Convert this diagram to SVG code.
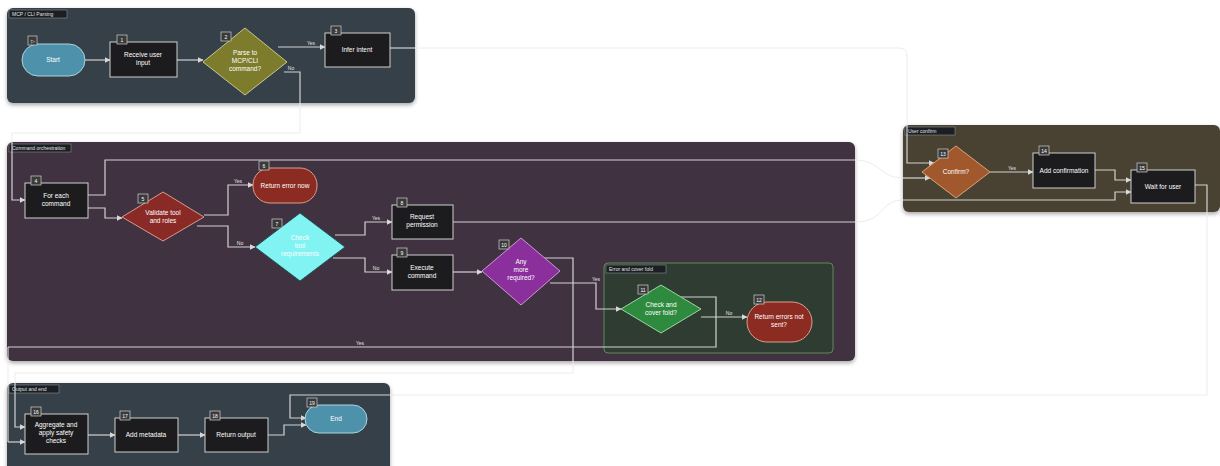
<svg xmlns="http://www.w3.org/2000/svg" width="1220" height="466" viewBox="0 0 1220 466">
<defs>
<marker id="ah" viewBox="0 0 6 6" refX="5.5" refY="3" markerWidth="5" markerHeight="5" orient="auto"><path d="M0,0 L6,3 L0,6 z" fill="#d8d8d8"/></marker>
<filter id="sh" x="-5%" y="-5%" width="110%" height="120%"><feDropShadow dx="0" dy="2" stdDeviation="2" flood-color="#000" flood-opacity="0.35"/></filter>
</defs>
<style>
text{font-family:"Liberation Sans",Arial,sans-serif;fill:#ffffff;text-anchor:middle}
.lt{font-size:5px;text-anchor:start;fill:#e0e0e0}
.tab{fill:#1b1f24;stroke:#9aa0a6;stroke-width:0.5}
.nt{font-size:6.5px}
.box{fill:#1c1c1e;stroke:#cfcfcf;stroke-width:1}
.bd{fill:#3a3a3a;stroke:#d0d0d0;stroke-width:0.7}
.bt{font-size:5px;fill:#ffffff}
.c{fill:none;stroke:#d2d2d2;stroke-width:1.2;marker-end:url(#ah)}
.cn{fill:none;stroke:#d2d2d2;stroke-width:1.2}
.co{fill:none;stroke:#ececec;stroke-width:1}
.el{font-size:5px;fill:#e6e6e6}
</style>

<!-- lanes -->
<g id="lane-parsing">
<rect x="7" y="8" width="408" height="95" rx="6" fill="#343f48" filter="url(#sh)"/>
<rect class="tab" x="9" y="10" width="58" height="8"/>
<text class="lt" x="12" y="16">MCP / CLI Parsing</text>
</g>
<g id="lane-orchestration">
<rect x="7" y="142" width="848" height="219" rx="6" fill="#40313f" filter="url(#sh)"/>
<rect class="tab" x="9" y="144" width="62" height="8"/>
<text class="lt" x="12" y="150">Command orchestration</text>
</g>
<g id="lane-errors">
<rect x="604" y="263" width="229" height="90" rx="4" fill="#2f3c32" stroke="#5f8a5a" stroke-width="1"/>
<rect class="tab" x="606" y="265" width="60" height="8"/>
<text class="lt" x="609" y="271">Error and cover fold</text>
</g>
<g id="lane-confirm">
<rect x="903" y="125" width="317" height="87" rx="6" fill="#4a4233" filter="url(#sh)"/>
<rect class="tab" x="905" y="127" width="50" height="8"/>
<text class="lt" x="908" y="133">User confirm</text>
</g>
<g id="lane-output">
<rect x="7" y="383" width="383" height="90" rx="6" fill="#343f4a" filter="url(#sh)"/>
<rect class="tab" x="9" y="385" width="50" height="8"/>
<text class="lt" x="12" y="391">Output and end</text>
</g>

<!-- connectors -->
<g id="connectors">
<path class="c" d="M85,60 H110"/>
<path class="c" d="M177,60 H203"/>
<path class="c" d="M278,47 H325"/>
<text class="el" x="311" y="45">Yes</text>
<path class="cn" d="M284,72 H300 V103"/>
<path class="co" d="M300,103 V133 H12 V142"/>
<text class="el" x="291" y="70">No</text>
<path class="cn" d="M390,48 H415"/>
<path class="co" d="M415,48 H900 Q907,48 907,56 V125"/>
<path class="c" d="M907,125 V163 H934"/>
<path class="c" d="M12,142 V200 H25"/>
<path class="cn" d="M88,195 H105 V160 H855"/>
<path class="co" d="M855,160 C880,160 880,178 903,178"/>
<path class="c" d="M903,178 H930"/>
<path class="c" d="M88,208 H105 V218 H122"/>
<path class="c" d="M204,215 H228 V185 H253"/>
<text class="el" x="238" y="183">Yes</text>
<path class="c" d="M197,226 H228 V247 H255"/>
<text class="el" x="240" y="245">No</text>
<path class="c" d="M335,235 H365 V222 H392"/>
<text class="el" x="376" y="220">Yes</text>
<path class="c" d="M333,258 H365 V272 H392"/>
<text class="el" x="376" y="270">No</text>
<path class="cn" d="M453,222 H855"/>
<path class="co" d="M855,222 C885,222 880,200 903,200"/>
<path class="c" d="M903,200 H1115 V192 H1131"/>
<path class="c" d="M453,272 H482"/>
<path class="cn" d="M543,258 H573 V361"/>
<path class="co" d="M573,361 V373 H15 V383"/>
<path class="c" d="M15,383 V427 H25"/>
<path class="c" d="M550,283 H596 V309 H621"/>
<text class="el" x="596" y="281">Yes</text>
<path class="c" d="M701,317 H747"/>
<text class="el" x="729" y="315">No</text>
<path class="cn" d="M681,297 H716 V347 H8"/>
<text class="el" x="360" y="345">Yes</text>
<path class="co" d="M8,347 V442"/>
<path class="c" d="M8,442 H25"/>
<path class="c" d="M990,172 H1033"/>
<text class="el" x="1012" y="170">Yes</text>
<path class="c" d="M1095,170 H1115 V180 H1131"/>
<path class="cn" d="M1195,185 H1207 V212"/>
<path class="co" d="M1207,212 V395 H390"/>
<path class="c" d="M390,395 H290 V418 H306"/>
<path class="c" d="M88,435 H115"/>
<path class="c" d="M178,435 H205"/>
<path class="c" d="M268,435 H284 V425 H306"/>
</g>

<!-- nodes -->
<g id="n-start">
<rect x="22" y="44" width="63" height="32" rx="16" fill="#4d92aa" stroke="#a9d4e2" stroke-width="1"/>
<text class="nt" x="53" y="62">Start</text>
<rect class="bd" x="28" y="36" width="9" height="9"/><text class="bt" x="32.5" y="43">▷</text>
</g>
<g id="n-receive">
<rect class="box" x="110" y="42" width="67" height="35"/>
<text class="nt" x="143" y="57">Receive user</text><text class="nt" x="143" y="65">input</text>
<rect class="bd" x="117" y="35" width="10" height="9"/><text class="bt" x="122" y="42">1</text>
</g>
<g id="n-parse">
<polygon points="245,28 287,62 245,95 203,62" fill="#7d7b2c" stroke="#c9c88a" stroke-width="1"/>
<text class="nt" x="245" y="55">Parse to</text><text class="nt" x="245" y="63">MCP/CLI</text><text class="nt" x="245" y="71">command?</text>
<rect class="bd" x="221" y="32" width="10" height="9"/><text class="bt" x="226" y="39">2</text>
</g>
<g id="n-infer">
<rect class="box" x="325" y="33" width="65" height="34"/>
<text class="nt" x="357" y="52">Infer intent</text>
<rect class="bd" x="331" y="26" width="10" height="9"/><text class="bt" x="336" y="33">3</text>
</g>

<g id="n-foreach">
<rect class="box" x="25" y="183" width="63" height="35"/>
<text class="nt" x="56" y="198">For each</text><text class="nt" x="56" y="206">command</text>
<rect class="bd" x="31" y="176" width="10" height="9"/><text class="bt" x="36" y="183">4</text>
</g>
<g id="n-validate">
<polygon points="163,192 204,217 163,241 122,217" fill="#8a2a26" stroke="#d79a90" stroke-width="1"/>
<text class="nt" x="163" y="215">Validate tool</text><text class="nt" x="163" y="223">and roles</text>
<rect class="bd" x="138" y="194" width="10" height="9"/><text class="bt" x="143" y="201">5</text>
</g>
<g id="n-reterr">
<rect x="253" y="168" width="64" height="35" rx="17" fill="#8c2b22" stroke="#d9a08e" stroke-width="1"/>
<text class="nt" x="285" y="188">Return error now</text>
<rect class="bd" x="259" y="161" width="10" height="9"/><text class="bt" x="264" y="168">6</text>
</g>
<g id="n-checktool">
<polygon points="300,213 345,247 300,281 255,247" fill="#82f3f3" stroke="#1f5555" stroke-width="1"/>
<text class="nt" x="300" y="240">Check</text><text class="nt" x="300" y="248">tool</text><text class="nt" x="300" y="256">requirements</text>
<rect class="bd" x="272" y="219" width="10" height="9"/><text class="bt" x="277" y="226">7</text>
</g>
<g id="n-request">
<rect class="box" x="392" y="205" width="61" height="34"/>
<text class="nt" x="422" y="219">Request</text><text class="nt" x="422" y="227">permission</text>
<rect class="bd" x="397" y="198" width="10" height="9"/><text class="bt" x="402" y="205">8</text>
</g>
<g id="n-execute">
<rect class="box" x="392" y="255" width="61" height="35"/>
<text class="nt" x="422" y="270">Execute</text><text class="nt" x="422" y="278">command</text>
<rect class="bd" x="397" y="248" width="10" height="9"/><text class="bt" x="402" y="255">9</text>
</g>
<g id="n-anymore">
<polygon points="521,238 560,271 521,305 482,271" fill="#8a2f9c" stroke="#c99bd2" stroke-width="1"/>
<text class="nt" x="521" y="264">Any</text><text class="nt" x="521" y="272">more</text><text class="nt" x="521" y="280">required?</text>
<rect class="bd" x="499" y="240" width="10" height="9"/><text class="bt" x="504" y="247">10</text>
</g>
<g id="n-checkfold">
<polygon points="661,285 701,309 661,333 621,309" fill="#2e8a3e" stroke="#9fd3a4" stroke-width="1"/>
<text class="nt" x="661" y="307">Check and</text><text class="nt" x="661" y="315">cover fold?</text>
<rect class="bd" x="638" y="285" width="10" height="9"/><text class="bt" x="643" y="292">11</text>
</g>
<g id="n-reterrs">
<rect x="747" y="302" width="65" height="40" rx="20" fill="#8c2b22" stroke="#d9a08e" stroke-width="1"/>
<text class="nt" x="779" y="319">Return errors not</text><text class="nt" x="779" y="327">sent?</text>
<rect class="bd" x="754" y="295" width="10" height="9"/><text class="bt" x="759" y="302">12</text>
</g>

<g id="n-confirm">
<polygon points="956,146 990,172 956,198 922,172" fill="#a0582c" stroke="#d8a27a" stroke-width="1"/>
<text class="nt" x="956" y="174">Confirm?</text>
<rect class="bd" x="938" y="149" width="10" height="9"/><text class="bt" x="943" y="156">13</text>
</g>
<g id="n-addconf">
<rect class="box" x="1033" y="153" width="62" height="35"/>
<text class="nt" x="1064" y="173">Add confirmation</text>
<rect class="bd" x="1039" y="146" width="10" height="9"/><text class="bt" x="1044" y="153">14</text>
</g>
<g id="n-wait">
<rect class="box" x="1131" y="170" width="64" height="33"/>
<text class="nt" x="1163" y="189">Wait for user</text>
<rect class="bd" x="1137" y="163" width="10" height="9"/><text class="bt" x="1142" y="170">15</text>
</g>

<g id="n-aggregate">
<rect class="box" x="25" y="414" width="63" height="40"/>
<text class="nt" x="56" y="427">Aggregate and</text><text class="nt" x="56" y="435">apply safety</text><text class="nt" x="56" y="443">checks</text>
<rect class="bd" x="31" y="407" width="10" height="9"/><text class="bt" x="36" y="414">16</text>
</g>
<g id="n-metadata">
<rect class="box" x="115" y="418" width="63" height="34"/>
<text class="nt" x="146" y="437">Add metadata</text>
<rect class="bd" x="120" y="411" width="10" height="9"/><text class="bt" x="125" y="418">17</text>
</g>
<g id="n-return">
<rect class="box" x="205" y="418" width="63" height="34"/>
<text class="nt" x="236" y="437">Return output</text>
<rect class="bd" x="210" y="411" width="10" height="9"/><text class="bt" x="215" y="418">18</text>
</g>
<g id="n-end">
<rect x="305" y="405" width="62" height="28" rx="14" fill="#4d92aa" stroke="#a9d4e2" stroke-width="1"/>
<text class="nt" x="336" y="421">End</text>
<rect class="bd" x="307" y="398" width="10" height="9"/><text class="bt" x="312" y="405">19</text>
</g>
</svg>
